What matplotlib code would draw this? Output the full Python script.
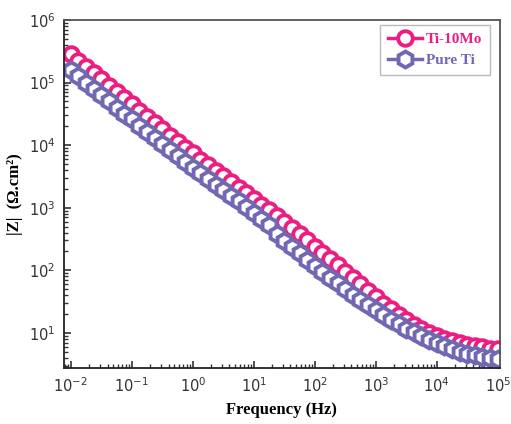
import numpy as np
import matplotlib
matplotlib.use("Agg")
import matplotlib.pyplot as plt
from matplotlib.ticker import LogLocator, NullFormatter

plt.rcParams["mathtext.fontset"] = "custom"
plt.rcParams["mathtext.rm"] = "Liberation Sans"
plt.rcParams["mathtext.it"] = "Liberation Sans:italic"
plt.rcParams["mathtext.bf"] = "Liberation Sans:bold"

# Frequency sweep: 8 points per decade, 1e-2 .. 1e5 Hz
freq = np.logspace(-2, 5, 57)

# log10 |Z| (Ohm.cm^2)
logz_ti10mo = [5.45, 5.35, 5.25, 5.15, 5.05, 4.95, 4.85, 4.75,
               4.65, 4.55, 4.45, 4.35, 4.25, 4.15, 4.05, 3.96,
               3.87, 3.77, 3.68, 3.59, 3.50, 3.41, 3.32, 3.23,
               3.14, 3.05, 2.96, 2.86, 2.77, 2.68, 2.58, 2.48,
               2.38, 2.28, 2.18, 2.08, 1.98, 1.88, 1.78, 1.67,
               1.57, 1.47, 1.38, 1.29, 1.21, 1.13, 1.06, 1.00,
               0.95, 0.91, 0.87, 0.84, 0.81, 0.79, 0.77, 0.75,
               0.74]
logz_pureti = [5.20, 5.10, 5.00, 4.90, 4.80, 4.70, 4.60, 4.50,
               4.41, 4.31, 4.21, 4.12, 4.02, 3.92, 3.83, 3.73,
               3.64, 3.55, 3.46, 3.37, 3.28, 3.19, 3.10, 3.01,
               2.91, 2.82, 2.72, 2.58, 2.47, 2.37, 2.27, 2.17,
               2.07, 1.97, 1.88, 1.79, 1.70, 1.61, 1.52, 1.44,
               1.36, 1.28, 1.21, 1.14, 1.07, 1.01, 0.95, 0.89,
               0.84, 0.79, 0.74, 0.70, 0.67, 0.64, 0.62, 0.60,
               0.58]
z_ti10mo = 10 ** np.array(logz_ti10mo)
z_pureti = 10 ** np.array(logz_pureti)

labels = ["Ti-10Mo", "Pure Ti"]
colors = ["#EC1E82", "#7168B3"]
xticks = [1e-2, 1e-1, 1e0, 1e1, 1e2, 1e3, 1e4, 1e5]
yticks = [1e1, 1e2, 1e3, 1e4, 1e5, 1e6]

fig = plt.figure(figsize=(5.11, 4.24), dpi=100)
ax = fig.add_axes([0.125, 0.132, 0.853, 0.821])

ax.plot(freq, z_ti10mo, color=colors[0], marker="o", markersize=10.5,
        markeredgewidth=2.8, markerfacecolor="white", linewidth=2.5,
        label=labels[0])
ax.plot(freq, z_pureti, color=colors[1], marker="h", markersize=11.5,
        markeredgewidth=2.8, markerfacecolor="white", linewidth=2.5,
        label=labels[1])

ax.set_xscale("log")
ax.set_yscale("log")
ax.set_xlim(0.0077, 1.08e5)
ax.set_ylim(2.75, 1e6)

ax.set_xticks(xticks)
ax.set_yticks(yticks)
ax.xaxis.set_minor_locator(LogLocator(base=10, subs=np.arange(2, 10), numticks=100))
ax.yaxis.set_minor_locator(LogLocator(base=10, subs=np.arange(2, 10), numticks=100))
ax.xaxis.set_minor_formatter(NullFormatter())
ax.yaxis.set_minor_formatter(NullFormatter())

ax.tick_params(which="both", direction="in", top=False, right=False,
               color="#333333")
ax.tick_params(which="major", length=5, width=1.2, labelsize=10.5,
               labelcolor="#333333", pad=6)
ax.tick_params(which="minor", length=3, width=1.0)
for sp in ax.spines.values():
    sp.set_color("#555555")
    sp.set_linewidth(1.3)
ax.spines["left"].set_color("#222222")
ax.spines["bottom"].set_color("#222222")

ax.set_xlabel("Frequency (Hz)", fontfamily="Liberation Serif",
              fontweight="bold", fontsize=12, labelpad=5)
ax.set_ylabel("|Z|  (Ω.cm²)", fontfamily="Liberation Serif",
              fontweight="bold", fontsize=12, labelpad=4)

leg = ax.legend(loc="upper right", bbox_to_anchor=(0.985, 0.995),
                prop={"family": "Liberation Serif", "weight": "bold", "size": 11},
                frameon=True, fancybox=False, handlelength=2.2,
                borderpad=0.5, labelspacing=0.5, handletextpad=0.3,
                borderaxespad=0.2)
leg.get_frame().set_edgecolor("#aaaaaa")
leg.get_frame().set_linewidth(1.0)
for txt, c in zip(leg.get_texts(), colors):
    txt.set_color(c)

fig.savefig("out.png", dpi=100)
